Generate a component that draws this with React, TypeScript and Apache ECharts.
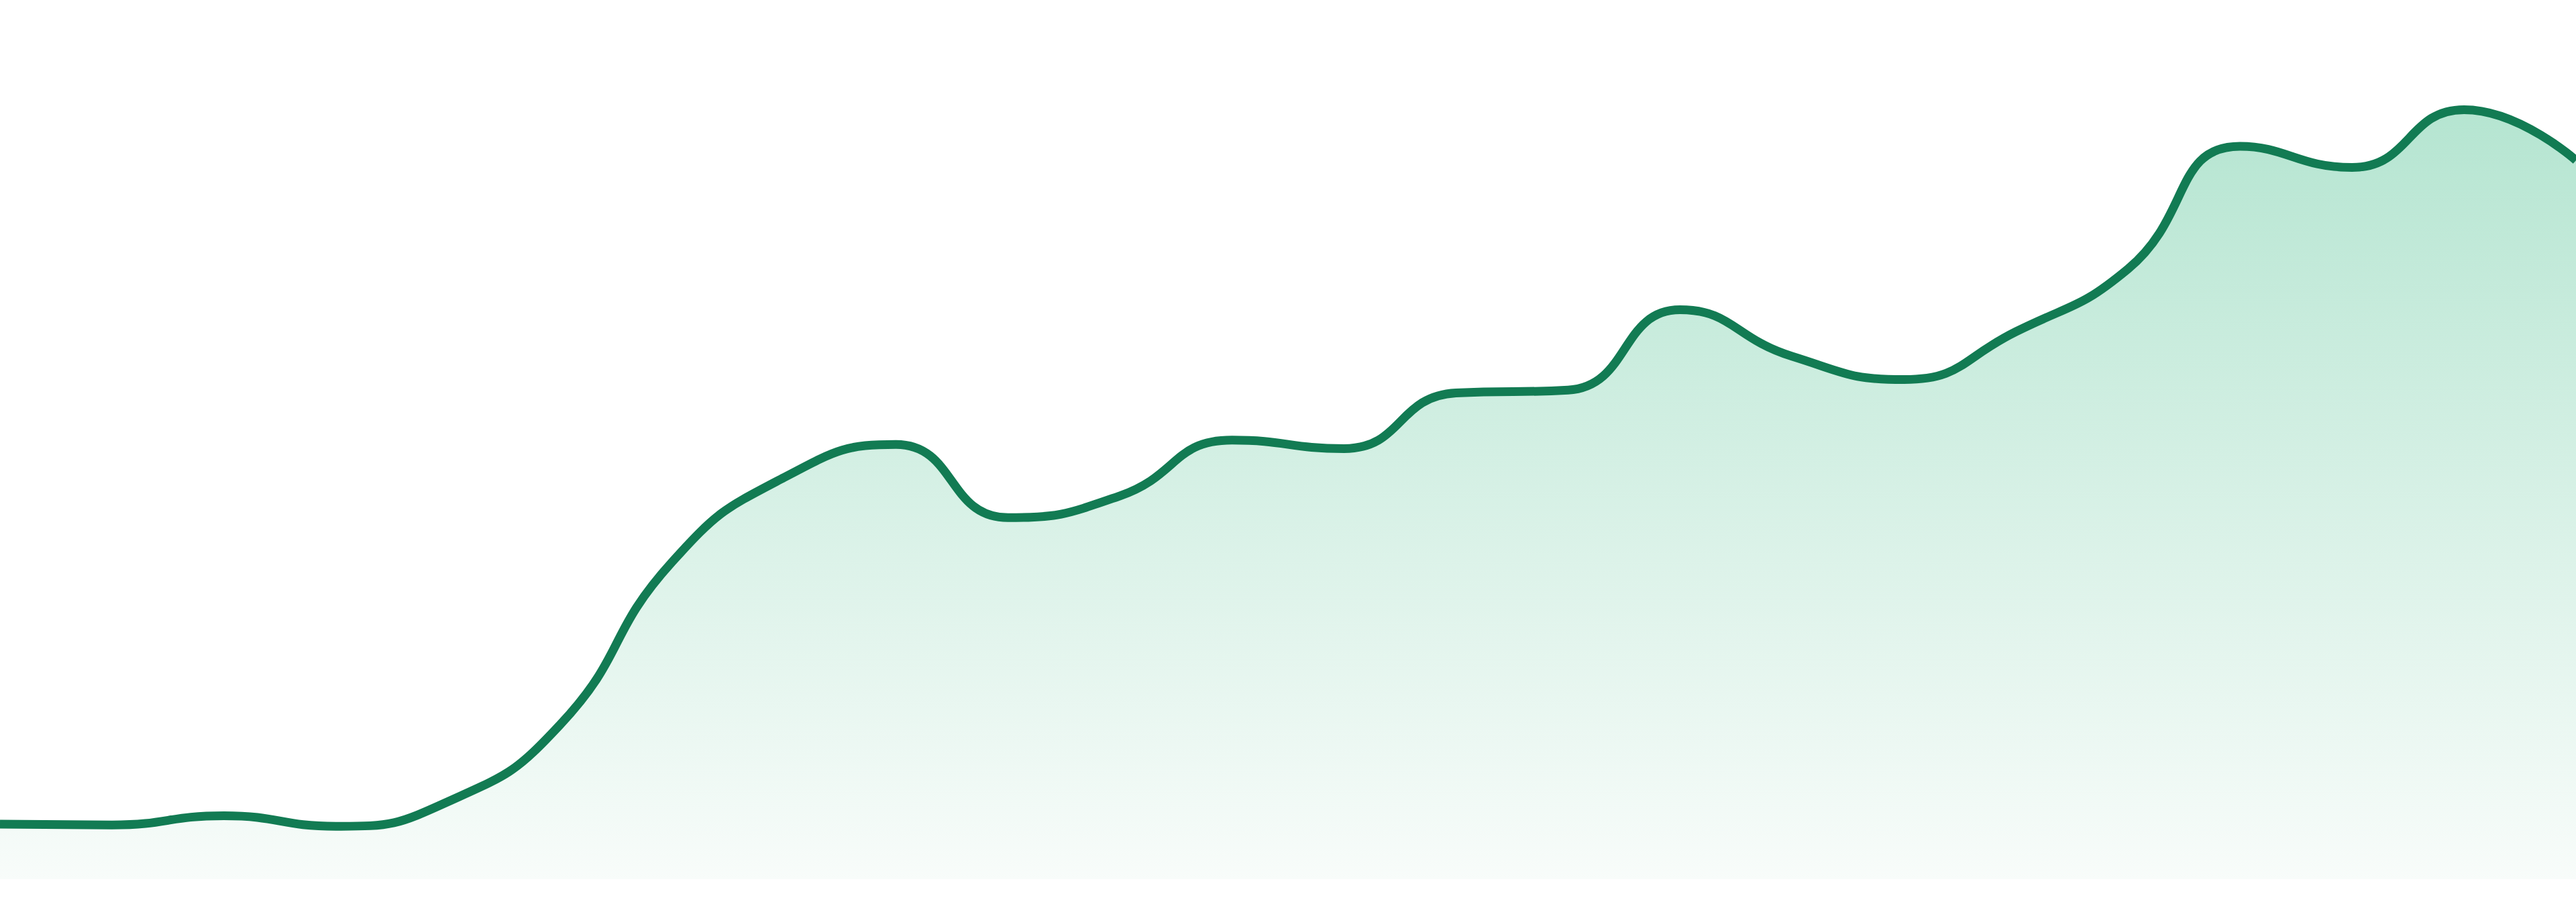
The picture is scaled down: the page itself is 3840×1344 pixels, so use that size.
import { useEffect, useRef } from "react";
import * as echarts from "echarts";

// 24 hourly samples, axes hidden in the reference
const hours = [
  "00:00", "01:00", "02:00", "03:00", "04:00", "05:00", "06:00", "07:00",
  "08:00", "09:00", "10:00", "11:00", "12:00", "13:00", "14:00", "15:00",
  "16:00", "17:00", "18:00", "19:00", "20:00", "21:00", "22:00", "23:00",
];

const values = [
  7.8, 7.7, 9.0, 7.5, 11.0, 21.9, 45.0, 57.0,
  61.7, 51.3, 54.4, 62.3, 61.1, 69.0, 69.4, 80.8,
  74.2, 70.9, 77.7, 86.6, 104.0, 101.0, 109.2, 102.0,
];

const Y_MIN = 0;
const Y_MAX = 120;

export default function App() {
  const ref = useRef<HTMLDivElement>(null);

  useEffect(() => {
    if (!ref.current) return;
    const chart = echarts.init(ref.current, null, { renderer: "svg" });
    chart.setOption({
      animation: false,
      backgroundColor: "#ffffff",
      grid: { left: 0, right: 0, top: 50, bottom: 34 },
      xAxis: {
        type: "category",
        data: hours,
        boundaryGap: false,
        show: false,
      },
      yAxis: {
        type: "value",
        min: Y_MIN,
        max: Y_MAX,
        show: false,
      },
      series: [
        {
          type: "line",
          data: values,
          smooth: true,
          showSymbol: false,
          lineStyle: { color: "#127b53", width: 13 },
          areaStyle: {
            opacity: 1,
            color: new echarts.graphic.LinearGradient(0, 0, 0, 1, [
              { offset: 0, color: "#b5e5d1" },
              { offset: 1, color: "#f8fcfa" },
            ]),
          },
        },
      ],
    });
    return () => chart.dispose();
  }, []);

  return (
    <div
      ref={ref}
      style={{ position: "fixed", left: 0, top: 0, width: 3840, height: 1344 }}
    />
  );
}
